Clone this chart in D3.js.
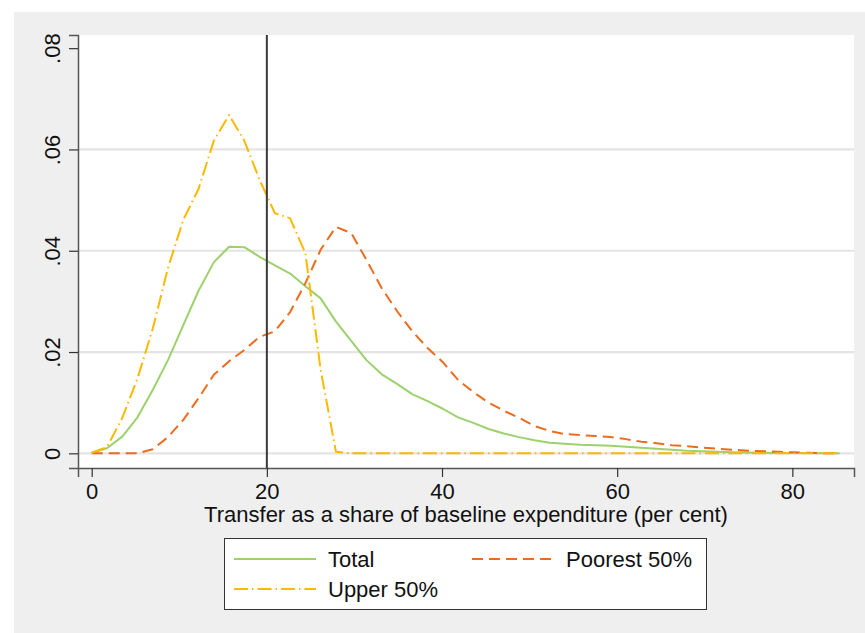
<!DOCTYPE html>
<html>
<head>
<meta charset="utf-8">
<script src="https://cdn.jsdelivr.net/npm/d3@7"></script>
<style>
  html, body { margin: 0; padding: 0; background: #ffffff; }
  svg { display: block; font-family: "Liberation Sans", Arial, sans-serif; }
</style>
</head>
<body>
<svg id="chart" width="865" height="633"></svg>
<script>
// Kernel density evaluation grid (per cent of baseline expenditure)
const transferShare = [0, 1.74, 3.49, 5.23, 6.97, 8.71, 10.46, 12.20, 13.94, 15.69,
  17.43, 19.17, 20.92, 22.66, 24.40, 26.14, 27.89, 29.63, 31.37, 33.12,
  34.86, 36.60, 38.35, 40.09, 41.83, 43.57, 45.32, 47.06, 48.80, 50.55,
  52.29, 54.03, 55.77, 57.52, 59.26, 61.00, 62.75, 64.49, 66.23, 67.98,
  69.72, 71.46, 73.20, 74.95, 76.69, 78.43, 80.18, 81.92, 83.66, 85.40];

// Density estimates for each group
const densityTotal = [0.0001, 0.0010, 0.0033, 0.0071, 0.0125, 0.0184, 0.0253, 0.0321, 0.0377, 0.0408,
  0.0407, 0.0388, 0.0371, 0.0355, 0.0330, 0.0306, 0.0260, 0.0222, 0.0184, 0.0156,
  0.0137, 0.0117, 0.0103, 0.0088, 0.0071, 0.0060, 0.0048, 0.0039, 0.0032, 0.0026,
  0.0021, 0.0019, 0.0017, 0.0016, 0.0015, 0.0013, 0.0011, 0.0009, 0.0007, 0.0005,
  0.0004, 0.0003, 0.0002, 0.00016, 0.00012, 0.00008, 0.00006, 0.00004, 0.00002, 0.0];

const densityPoorest = [0, 0, 0, 0, 0.0008, 0.0032, 0.0066, 0.0109, 0.0155, 0.0182,
  0.0204, 0.0230, 0.0241, 0.0279, 0.0336, 0.0402, 0.0447, 0.0435, 0.0382, 0.0326,
  0.0281, 0.0241, 0.0208, 0.0180, 0.0145, 0.0121, 0.0100, 0.0084, 0.0070, 0.0054,
  0.0044, 0.0038, 0.0036, 0.0034, 0.0032, 0.0028, 0.0023, 0.0020, 0.0016, 0.0014,
  0.0011, 0.0009, 0.0007, 0.0005, 0.0004, 0.0003, 0.0002, 0.0001, 0.0, 0.0];

const densityUpper = [0.0001, 0.0012, 0.0070, 0.0148, 0.0246, 0.0366, 0.0461, 0.0522, 0.0617, 0.0668,
  0.0617, 0.0540, 0.0474, 0.0464, 0.0395, 0.0165, 0.0003, 0, 0, 0,
  0, 0, 0, 0, 0, 0, 0, 0, 0, 0,
  0, 0, 0, 0, 0, 0, 0, 0, 0, 0,
  0, 0, 0, 0, 0, 0, 0, 0, 0, 0];

const xTicks = [0, 20, 40, 60, 80];
const yTicks = [0, 0.02, 0.04, 0.06, 0.08];
const yTickLabels = ["0", ".02", ".04", ".06", ".08"];
const gridValues = [0, 0.02, 0.04, 0.06];
const referenceLine = 20;

const seriesNames = ["Total", "Poorest 50%", "Upper 50%"];
const xTitle = "Transfer as a share of baseline expenditure (per cent)";

const series = [
  { name: seriesNames[0], values: densityTotal, color: "#9dd16c", dash: null },
  { name: seriesNames[1], values: densityPoorest, color: "#ec6c1f", dash: "11,6" },
  { name: seriesNames[2], values: densityUpper, color: "#fdb800", dash: "14,4,1.5,4" }
];

const svg = d3.select("#chart");
const W = 865, H = 633;
const plot = { left: 78, right: 854, top: 35, bottom: 468 };

// graph region background
svg.append("rect").attr("x", 14).attr("y", 12).attr("width", W - 14).attr("height", H - 12)
  .attr("fill", "#efefef");
// plot region
svg.append("rect").attr("x", plot.left).attr("y", plot.top)
  .attr("width", plot.right - plot.left).attr("height", plot.bottom - plot.top)
  .attr("fill", "#ffffff");

const x = d3.scaleLinear().domain([-1.564, 87.04]).range([plot.left, plot.right]);
const y = d3.scaleLinear().domain([-0.0029, 0.0826]).range([plot.bottom, plot.top]);

// horizontal grid
svg.append("g").selectAll("line").data(gridValues).join("line")
  .attr("x1", plot.left).attr("x2", plot.right)
  .attr("y1", d => y(d)).attr("y2", d => y(d))
  .attr("stroke", "#e4e4e4").attr("stroke-width", 2.2);

// density curves
const line = d3.line()
  .x((d, i) => x(transferShare[i]))
  .y(d => y(d));

svg.append("g").selectAll("path").data(series).join("path")
  .attr("d", d => line(d.values))
  .attr("fill", "none")
  .attr("stroke", d => d.color)
  .attr("stroke-width", 2)
  .attr("stroke-linejoin", "round")
  .attr("stroke-dasharray", d => d.dash);

// reference line
svg.append("line")
  .attr("x1", x(referenceLine)).attr("x2", x(referenceLine))
  .attr("y1", plot.top).attr("y2", plot.bottom)
  .attr("stroke", "#3a3a3a").attr("stroke-width", 2);

// x axis
const xAxis = d3.axisBottom(x).tickValues(xTicks).tickSize(9).tickPadding(6).tickFormat(d3.format("d"));
const gx = svg.append("g").attr("transform", `translate(0,${plot.bottom})`).call(xAxis);
gx.select(".domain").attr("stroke", "#555").attr("stroke-width", 1.5);
gx.selectAll(".tick line").attr("stroke", "#333").attr("stroke-width", 1.2);
gx.selectAll(".tick text").attr("font-size", 22).attr("fill", "#111")
  .attr("font-family", "Liberation Sans, Arial, sans-serif");

// y axis
const yAxis = d3.axisLeft(y).tickValues(yTicks).tickSize(9).tickFormat((d, i) => yTickLabels[i]);
const gy = svg.append("g").attr("transform", `translate(${plot.left},0)`).call(yAxis);
gy.select(".domain").attr("stroke", "#555").attr("stroke-width", 1.5);
gy.selectAll(".tick line").attr("stroke", "#333").attr("stroke-width", 1.2);
gy.selectAll(".tick text")
  .attr("font-size", 22).attr("fill", "#111")
  .attr("font-family", "Liberation Sans, Arial, sans-serif")
  .attr("x", null).attr("dy", null)
  .attr("text-anchor", "middle")
  .attr("transform", "translate(-18,0) rotate(-90)");

// x axis title
svg.append("text")
  .attr("x", (plot.left + plot.right) / 2).attr("y", 522)
  .attr("text-anchor", "middle").attr("font-size", 22).attr("fill", "#111")
  .text(xTitle);

// legend
const legend = svg.append("g");
legend.append("rect").attr("x", 224.5).attr("y", 538.5).attr("width", 482).attr("height", 71)
  .attr("fill", "#ffffff").attr("stroke", "#333").attr("stroke-width", 1);
const legendPos = [
  { lx: 234, ty: 559 },
  { lx: 472, ty: 559 },
  { lx: 234, ty: 589 }
];
series.forEach((s, i) => {
  const p = legendPos[i];
  legend.append("line")
    .attr("x1", p.lx).attr("x2", p.lx + 82)
    .attr("y1", p.ty).attr("y2", p.ty)
    .attr("stroke", s.color).attr("stroke-width", 2)
    .attr("stroke-dasharray", s.dash);
  legend.append("text")
    .attr("x", p.lx + 94).attr("y", p.ty + 8)
    .attr("font-size", 22).attr("fill", "#111")
    .text(s.name);
});
</script>
</body>
</html>
